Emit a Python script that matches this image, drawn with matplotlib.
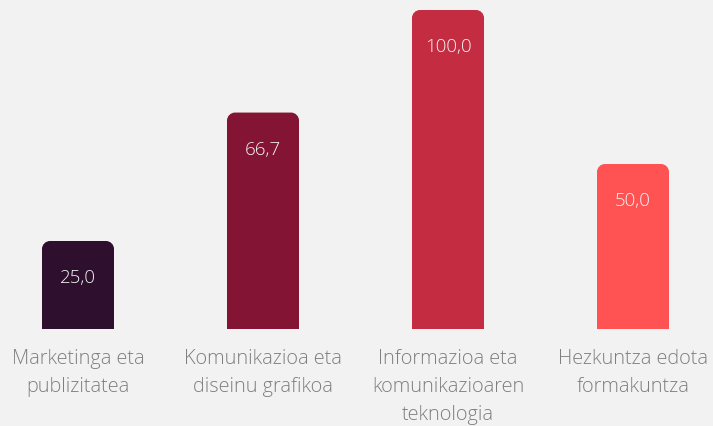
import matplotlib
matplotlib.use("Agg")
import matplotlib.pyplot as plt
from matplotlib.path import Path
from matplotlib.patches import PathPatch

categories = ["Marketinga eta\npublizitatea", "Komunikazioa eta\ndiseinu grafikoa",
              "Informazioa eta\nkomunikazioaren\nteknologia", "Hezkuntza edota\nformakuntza"]
values = [25.0, 66.7, 100.0, 50.0]
colors = ["#2e0f2e", "#831433", "#c42c42", "#ff5252"]

W, H, DPI = 713, 427, 100
fig = plt.figure(figsize=(W / DPI, H / DPI), dpi=DPI, facecolor="#f2f2f2")
ax_bottom_px, ax_top_px = 97, 427 - 11
ax = fig.add_axes([0, ax_bottom_px / H, 1, (ax_top_px - ax_bottom_px) / H])
ax.set_facecolor("#f2f2f2")
spacing = 185.0
x0 = 78.0
ymin = -3.57
ax.set_xlim(-x0 / spacing, (W - x0) / spacing)
ax.set_ylim(ymin, 100)
for s in ax.spines.values():
    s.set_visible(False)
ax.set_yticks([])

fam = ["Open Sans", "DejaVu Sans"]
bw = 72 / spacing
r_px = 8
rx = r_px / spacing
ry = r_px / ((ax_top_px - ax_bottom_px) / (100 - ymin))
xs = list(range(len(values)))
bars = ax.bar(xs, [v - ymin for v in values], bottom=ymin, width=bw, color="none")
for b, c, v in zip(bars, colors, values):
    x, w = b.get_x(), b.get_width()
    y0, h = b.get_y(), b.get_y() + b.get_height()
    k = 0.5523
    verts = [(x, y0), (x, h - ry),
             (x, h - ry + k * ry), (x + rx - k * rx, h), (x + rx, h),
             (x + w - rx, h),
             (x + w - rx + k * rx, h), (x + w, h - ry + k * ry), (x + w, h - ry),
             (x + w, y0), (x, y0)]
    codes = [Path.MOVETO, Path.LINETO, Path.CURVE4, Path.CURVE4, Path.CURVE4,
             Path.LINETO, Path.CURVE4, Path.CURVE4, Path.CURVE4, Path.LINETO, Path.CLOSEPOLY]
    ax.add_patch(PathPatch(Path(verts, codes), facecolor=c, edgecolor="none"))
    ax.annotate(f"{v:.1f}".replace(".", ","), (x + w / 2, h), xytext=(0, -36),
                textcoords="offset pixels", ha="center", va="center",
                color="#f4f4f4", fontsize=13.5, family=fam, fontweight=300)

ax.set_xticks(xs)
ax.set_xticklabels(categories, family=fam, fontsize=14.3, fontweight=300,
                   color="#7f7f7f", linespacing=1.52)
ax.tick_params(axis="x", length=0, pad=14)

fig.savefig("out.png", dpi=DPI, facecolor=fig.get_facecolor())
